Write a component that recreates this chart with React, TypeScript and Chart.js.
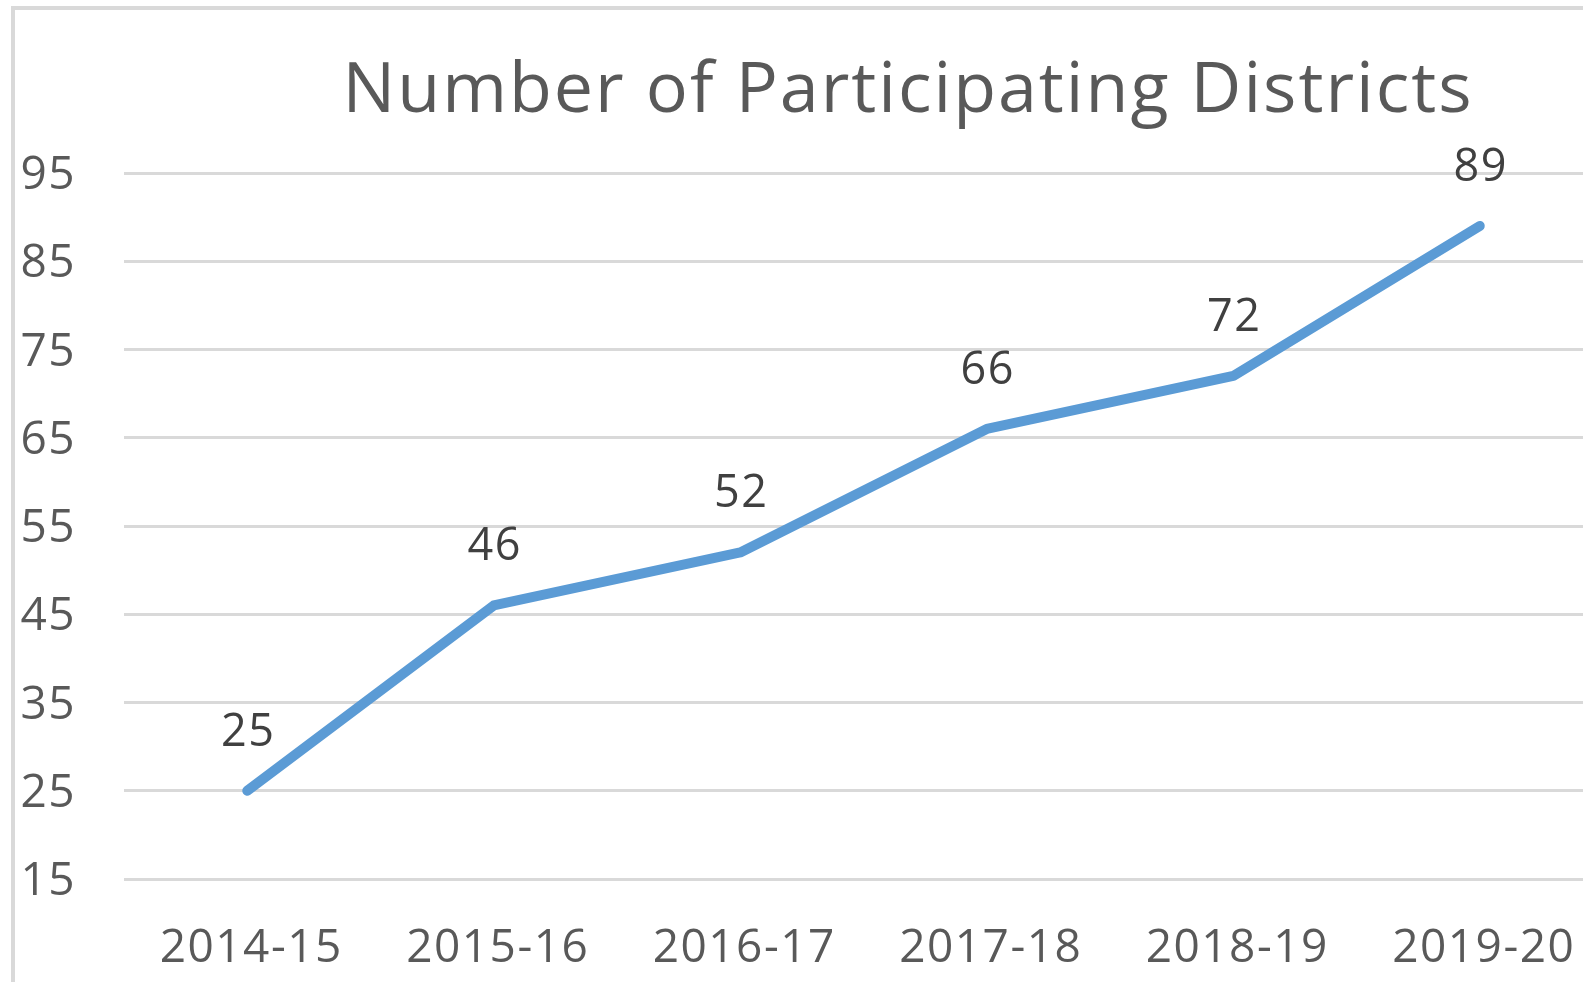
import React, { useEffect, useRef } from "react";
import { Chart, registerables } from "chart.js";

Chart.register(...registerables);

const TITLE = "Number of Participating Districts";
const categories = ["2014-15", "2015-16", "2016-17", "2017-18", "2018-19", "2019-20"];
const districts = [25, 46, 52, 66, 72, 89];
const yMin = 15;
const yMax = 95;
const yStep = 10;

const FONT = "'Open Sans', 'Noto Sans', sans-serif";

const spacingPlugin = {
  id: "spacing",
  beforeDraw(chart: any) {
    (chart.ctx as any).letterSpacing = "1.5px";
  },
};

const titlePlugin = {
  id: "customTitle",
  afterDraw(chart: any) {
    const ctx = chart.ctx;
    ctx.save();
    (ctx as any).letterSpacing = "2px";
    ctx.font = `70px ${FONT}`;
    ctx.fillStyle = "#595959";
    ctx.textAlign = "center";
    ctx.textBaseline = "alphabetic";
    ctx.fillText(TITLE, 908, 112);
    ctx.restore();
  },
};

const dataLabelPlugin = {
  id: "dataLabels",
  afterDatasetsDraw(chart: any) {
    const ctx = chart.ctx;
    ctx.save();
    (ctx as any).letterSpacing = "1.5px";
    ctx.font = `45px ${FONT}`;
    ctx.fillStyle = "#404040";
    ctx.textAlign = "center";
    ctx.textBaseline = "middle";
    chart.data.datasets.forEach((ds: any, di: number) => {
      const meta = chart.getDatasetMeta(di);
      meta.data.forEach((pt: any, i: number) => {
        ctx.fillText(String(ds.data[i]), pt.x + 1, pt.y - 58);
      });
    });
    ctx.restore();
  },
};

export default function App() {
  const ref = useRef<HTMLCanvasElement>(null);
  useEffect(() => {
    if (!ref.current) return;
    const chart = new Chart(ref.current, {
      type: "line",
      data: {
        labels: categories,
        datasets: [
          {
            label: "Districts",
            data: districts,
            borderColor: "#5B9BD5",
            backgroundColor: "#5B9BD5",
            borderWidth: 10,
            borderCapStyle: "round",
            borderJoinStyle: "round",
            pointRadius: 0,
            tension: 0,
            clip: false as any,
          },
        ],
      },
      options: {
        responsive: false,
        animation: false,
        devicePixelRatio: 1,
        layout: { padding: { top: 173, left: 0, right: 0, bottom: 0 } },
        plugins: {
          legend: { display: false },
          title: { display: false },
          tooltip: { enabled: false },
        },
        scales: {
          x: {
            offset: true,
            grid: {
              display: true,
              drawOnChartArea: false,
              drawTicks: true,
              tickLength: 40,
              color: "rgba(0,0,0,0)",
            },
            border: { display: false },
            ticks: {
              color: "#595959",
              font: { family: FONT, size: 46 },
              padding: 2,
              labelOffset: 4,
              maxRotation: 0,
              autoSkip: false,
            },
            afterFit(scale: any) {
              scale.height = 982 - 879;
            },
          },
          y: {
            min: yMin,
            max: yMax,
            grid: { color: "#D9D9D9", lineWidth: 3, drawTicks: false },
            border: { display: false },
            ticks: {
              stepSize: yStep,
              color: "#595959",
              font: { family: FONT, size: 46 },
              padding: 48,
              labelOffset: 3,
            },
            afterFit(scale: any) {
              scale.width = 124;
            },
          },
        },
      },
      plugins: [spacingPlugin, titlePlugin, dataLabelPlugin],
    });
    return () => chart.destroy();
  }, []);

  return (
    <div
      style={{
        position: "fixed",
        left: 0,
        top: 0,
        width: "100vw",
        height: "100vh",
        overflow: "hidden",
        background: "#fff",
      }}
    >
      <div
        style={{
          position: "absolute",
          left: 11,
          top: 6,
          width: 1700,
          height: 1100,
          borderLeft: "4px solid #D9D9D9",
          borderTop: "4px solid #D9D9D9",
        }}
      />
      <canvas
        ref={ref}
        width={1603}
        height={982}
        style={{ position: "absolute", left: 0, top: 0, width: 1603, height: 982 }}
      />
    </div>
  );
}
